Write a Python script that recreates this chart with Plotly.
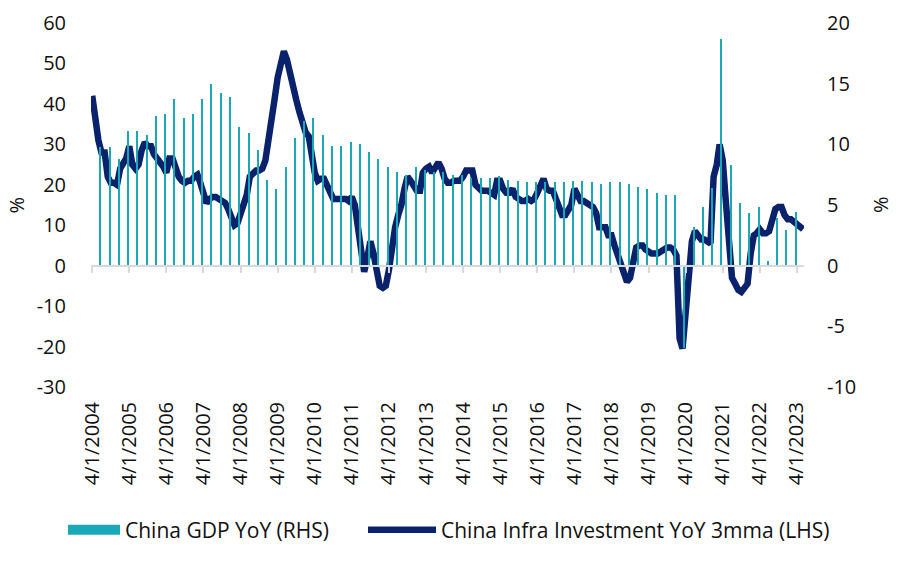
import pandas as pd
import plotly.graph_objects as go

# China GDP YoY (RHS), quarterly, Q2 2004 .. Q1 2023
gdp_start = "2004-06-20"
gdp_yoy = [
    9.8, 9.8, 8.8,
    11.1, 11.1, 10.8, 12.3,
    12.5, 13.7, 12.2, 12.5,
    13.7, 15.0, 14.2, 13.9,
    11.4, 10.9, 9.5, 7.1,
    6.3, 8.1, 10.5, 11.9,
    12.2, 10.8, 9.9, 9.9,
    10.2, 10.0, 9.4, 8.8,
    8.1, 7.7, 7.5, 8.1,
    7.9, 7.7, 7.7, 7.5,
    7.5, 7.2, 7.2, 7.2,
    7.4, 7.1, 7.0, 6.9,
    6.9, 6.9, 6.9, 6.9,
    7.0, 7.0, 6.9, 6.7,
    6.9, 6.9, 6.7, 6.5,
    6.3, 6.0, 5.8, 5.8,
    -6.8, 3.2, 4.8, 6.4,
    18.7, 8.3, 5.2, 4.3,
    4.8, 0.4, 3.9, 2.9,
    4.4,
]

# China Infra Investment YoY 3mma (LHS), monthly from Apr 2004
infra_start = "2004-04-01"
infra_yoy = [
    42, 36, 31, 28, 28, 22, 20.5, 20.5, 20, 24, 25, 26.5,
    29.5, 25, 24, 25, 28.5, 30.5, 29.5, 29.5, 27.5, 26.5, 26, 24.5,
    23, 26.5, 26.5, 24, 22, 21, 20.5, 21, 21, 22, 22.5, 20.5,
    18, 15.5, 16.5, 17, 17, 16.5, 16, 15.5, 14, 11.5, 10, 10.5,
    12.5, 15.5, 17.5, 22, 23, 23.5, 23.5, 24, 26, 30.5, 35, 41,
    46.5, 50.5, 53, 51, 47, 43.5, 41, 38, 35, 33, 32, 27.5,
    23, 21, 21.5, 21.5, 20, 18, 16.5, 16.5, 16.5, 16.5, 16.5, 16,
    17, 15, 10, 4.5, -1.5, 2, 6, 3, -1, -5, -5.5, -5,
    -1, 5, 9.5, 12.5, 15, 19, 22, 21, 19.5, 18.5, 18.5, 23,
    24, 24.5, 23, 24.5, 25.5, 24, 21.5, 20.5, 20.5, 21, 21, 21,
    22, 23.5, 23.5, 23.5, 20, 19, 18.5, 18.5, 18.5, 18, 17.5, 21,
    21, 19, 18, 18, 19, 17, 16.5, 16, 16, 16.5, 16, 16.5,
    18, 19.5, 21.5, 19, 18.5, 18.5, 16.5, 14.5, 12.5, 12.5, 13.5, 15,
    19, 17, 16, 16, 15.5, 15, 14.5, 13, 9.5, 9.5, 9.5, 7.5,
    7.5, 5, 3, 0, -2, -4, -3, 0.5, 4.5, 5, 5, 4,
    3.5, 3, 3, 3, 3.5, 4, 4.5, 4.5, 4, 2.5, -18, -20.5,
    -12, 0, 6, 8.5, 7.5, 6.5, 6.5, 6, 5.5, 22, 25, 30,
    26, 16, 4, -3, -4.5, -6, -6.5, -5.5, -4.5, 3, 7.5, 8,
    9, 8, 8, 8.5, 11.5, 14, 14.5, 14.5, 12.5, 11.5, 11.5, 11,
    10, 9.5, 9,
]

left_ticks = [-30, -20, -10, 0, 10, 20, 30, 40, 50, 60]
right_ticks = [-10, -5, 0, 5, 10, 15, 20]

gdp_name = "China GDP YoY (RHS)"
infra_name = "China Infra Investment YoY 3mma (LHS)"
year_tick_format = "%-m/%-d/%Y"

TEAL = "#19A9B6"
NAVY = "#0A216B"
FONT = "Open Sans"

gdp_dates = pd.date_range(gdp_start, periods=len(gdp_yoy), freq=pd.DateOffset(months=3))
infra_dates = pd.date_range(infra_start, periods=len(infra_yoy), freq="MS")

fig = go.Figure()

fig.add_trace(go.Bar(
    x=gdp_dates, y=gdp_yoy, xaxis="x2", yaxis="y2",
    marker=dict(color=TEAL, line=dict(width=0)),
    width=11 * 24 * 3600 * 1000,
    showlegend=False, name=gdp_name,
))
# legend entry for the bars (wide teal box)
fig.add_trace(go.Scatter(
    x=[None], y=[None], mode="lines", name=gdp_name,
    line=dict(color=TEAL, width=13), showlegend=True, legend="legend",
))
fig.add_trace(go.Scatter(
    x=infra_dates, y=infra_yoy, mode="lines", name=infra_name,
    line=dict(color=NAVY, width=6.5), showlegend=True, legend="legend2",
))

x_range = ["2004-03-20", "2023-06-10"]

fig.update_layout(
    width=906, height=563,
    margin=dict(l=91, r=102, t=23, b=176, autoexpand=False),
    paper_bgcolor="white", plot_bgcolor="white",
    font=dict(family=FONT, size=20, color="#111111"),
    bargap=0,
    xaxis=dict(
        type="date", range=x_range,
        tick0="2004-04-01", dtick="M12", tickformat=year_tick_format,
        tickangle=-90, showgrid=False, showline=False, zeroline=False,
        ticks="", ticklabelstandoff=10, automargin=False,
        tickfont=dict(size=20),
    ),
    xaxis2=dict(
        type="date", matches="x", overlaying="x", anchor="free", position=1 / 3,
        tick0="2004-04-01", dtick="M12",
        showticklabels=False, showgrid=False, zeroline=False,
        showline=True, linecolor="#D9D9D9", linewidth=2,
        ticks="outside", ticklen=6, tickcolor="#D9D9D9", tickwidth=2,
        automargin=False,
    ),
    yaxis=dict(
        range=[-30, 60], tickvals=left_ticks, ticktext=[str(v) for v in left_ticks],
        showgrid=False, zeroline=False, automargin=False,
        showline=False, ticks="outside", ticklen=20, tickcolor="rgba(0,0,0,0)",
        ticklabelstandoff=0,
    ),
    yaxis2=dict(
        range=[-10, 20], tickvals=right_ticks, ticktext=[str(v) for v in right_ticks],
        overlaying="y", side="right", anchor="x", automargin=False,
        showgrid=False, zeroline=False, showline=False, ticks="",
        ticklabelstandoff=22,
    ),
    legend=dict(
        orientation="h", xref="container", yref="container",
        x=63 / 906, xanchor="left", y=1 - 530 / 563, yanchor="middle",
        font=dict(size=21), itemwidth=52, bgcolor="rgba(0,0,0,0)",
    ),
    legend2=dict(
        orientation="h", xref="container", yref="container",
        x=363 / 906, xanchor="left", y=1 - 530 / 563, yanchor="middle",
        font=dict(size=21), itemwidth=68, bgcolor="rgba(0,0,0,0)",
    ),
    annotations=[
        dict(text="%", xref="paper", yref="paper", x=(15.5 - 91) / 713, y=0.5,
             xanchor="center", yanchor="middle",
             textangle=-90, showarrow=False, font=dict(size=20)),
        dict(text="%", xref="paper", yref="paper", x=(880 - 91) / 713, y=0.5,
             xanchor="center", yanchor="middle",
             textangle=-90, showarrow=False, font=dict(size=20)),
    ],
)

fig.write_html("out.html", config={"displayModeBar": False},
               post_script="document.body.style.margin='0';")
